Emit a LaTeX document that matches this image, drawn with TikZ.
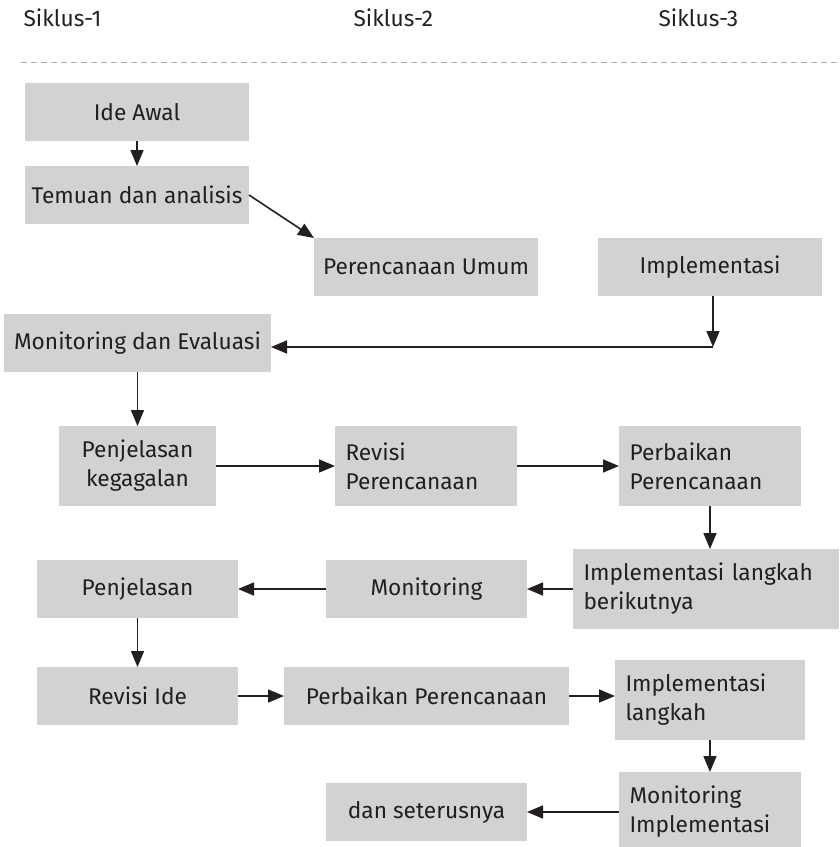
\documentclass[tikz,border=0pt]{standalone}
\usepackage{fontspec}
\setmainfont{Fira Sans}
\usetikzlibrary{arrows.meta}
\definecolor{kotakabu}{HTML}{D1D2D4}
\definecolor{teks}{HTML}{231F20}
\definecolor{garis}{HTML}{A7A9AC}
\begin{document}
\begin{tikzpicture}[x=1pt, y=-1pt,
  kotak/.style={fill=kotakabu, text=teks, inner sep=0pt, outer sep=0pt,
    align=center, font=\fontsize{22.7}{29}\selectfont},
  kotakkiri/.style={kotak, align=left, inner xsep=10.5pt},
  panah/.style={-{Triangle[length=16pt, width=13pt]}, line width=1.6pt, draw=teks},
  judul/.style={anchor=base west, text=teks, font=\fontsize{22.7}{29}\selectfont}]

  \clip (0,0) rectangle (839,847);

  \node[judul] (s1) at (20,26) {Siklus-1};
  \node[judul] (s2) at (350,26) {Siklus-2};
  \node[judul] (s3) at (655,26) {Siklus-3};
  \draw[garis, line width=1pt, dash pattern=on 6pt off 4pt] (21,62) -- (839,62);

  %% siklus 1
  \node[kotak, minimum width=224, minimum height=58] (ide) at (137,112) {Ide Awal};
  \node[kotak, minimum width=224, minimum height=58] (temuan) at (137,195) {Temuan dan analisis};
  \node[kotak, minimum width=224, minimum height=58] (renum) at (426,267) {Perencanaan Umum};
  \node[kotak, minimum width=224, minimum height=58] (impl) at (710,267) {Implementasi};
  \node[kotak, minimum width=267, minimum height=58] (mde) at (137.5,343) {Monitoring dan Evaluasi};
  \coordinate (siku) at (713,347);

  \draw[panah] (ide) -- (temuan);
  \draw[panah] (temuan.east) -- (renum.north west);
  \draw[panah] (impl.south -| siku) -- (siku);
  \draw[panah] (siku) -- (siku -| mde.east);
  \draw[panah] (mde) -- (137.5,426);

  %% siklus 2
  \node[kotak, minimum width=157, minimum height=80] (pjgagal) at (137.5,466) {Penjelasan\\kegagalan};
  \node[kotakkiri, text width=161, minimum height=80] (revren) at (426,466) {Revisi\\Perencanaan};
  \node[kotakkiri, text width=161, minimum height=80] (perbren) at (710,466) {Perbaikan\\Perencanaan};
  \node[kotakkiri, text width=245, minimum height=80] (implber) at (706,589) {Implementasi langkah\\berikutnya};
  \node[kotak, minimum width=201, minimum height=58] (mon) at (426.5,589) {Monitoring};
  \node[kotak, minimum width=201, minimum height=58] (pj) at (137.5,589) {Penjelasan};

  \draw[panah] (pjgagal) -- (revren);
  \draw[panah] (revren) -- (perbren);
  \draw[panah] (perbren) -- (perbren.south |- implber.north);
  \draw[panah] (implber) -- (mon);
  \draw[panah] (mon) -- (pj);

  %% siklus 3
  \node[kotak, minimum width=201, minimum height=58] (revide) at (137.5,696) {Revisi Ide};
  \node[kotak, minimum width=285, minimum height=58] (perbren2) at (426.5,696) {Perbaikan Perencanaan};
  \node[kotakkiri, text width=169, minimum height=80] (impllang) at (710,700) {Implementasi\\langkah};
  \node[kotakkiri, text width=161, minimum height=80] (monimpl) at (710,812) {Monitoring\\Implementasi};
  \node[kotak, minimum width=201, minimum height=58] (danset) at (426.5,812) {dan seterusnya};

  \draw[panah] (pj) -- (revide);
  \draw[panah] (revide) -- (perbren2);
  \draw[panah] (perbren2.east) -- (perbren2.east -| impllang.west);
  \draw[panah] (impllang) -- (monimpl);
  \draw[panah] (monimpl) -- (danset);
\end{tikzpicture}
\end{document}
